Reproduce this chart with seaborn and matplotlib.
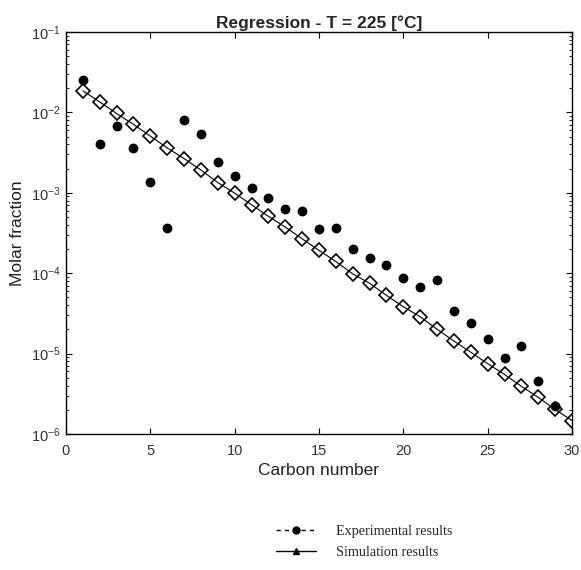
import numpy as np
import pandas as pd
import matplotlib
matplotlib.use("Agg")
import matplotlib.pyplot as plt
from matplotlib.lines import Line2D
from matplotlib.ticker import LogLocator, FixedLocator
import seaborn as sns

# ---- data ----
carbon_exp = list(range(1, 30))
exp_values = [0.0252, 0.00406, 0.00678, 0.00362, 0.00135, 0.00037, 0.00805, 0.00545,
              0.00242, 0.00162, 0.00115, 0.00085, 0.00062, 0.00060, 0.00035, 0.000365,
              0.000202, 0.000155, 0.000127, 8.75e-5, 6.7e-5, 8.3e-5, 3.4e-5, 2.37e-5,
              1.54e-5, 8.9e-6, 1.24e-5, 4.5e-6, 2.2e-6]
carbon_sim = list(range(1, 31))
sim_values = [0.0186, 0.0135, 0.0097, 0.0071, 0.00507, 0.00362, 0.00266, 0.00192,
              0.00134, 0.00099, 0.00071, 0.00051, 0.000375, 0.000268, 0.000192,
              0.00014, 9.8e-5, 7.5e-5, 5.3e-5, 3.83e-5, 2.87e-5, 2.01e-5, 1.43e-5,
              1.04e-5, 7.5e-6, 5.5e-6, 3.92e-6, 2.85e-6, 2.02e-6, 1.47e-6]
x_ticks = [0, 5, 10, 15, 20, 25, 30]
title = "Regression - T = 225 [°C]"
xlabel = "Carbon number"
ylabel = "Molar fraction"
legend_labels = ["Experimental results", "Simulation results"]

df_exp = pd.DataFrame({"carbon": carbon_exp, "value": exp_values})
df_sim = pd.DataFrame({"carbon": carbon_sim, "value": sim_values})

sns.set_style("ticks")
plt.rcParams["font.family"] = ["Liberation Sans", "DejaVu Sans"]

fig = plt.figure(figsize=(5.81, 5.70), dpi=100)
ax = fig.add_axes([66 / 581, 136 / 570, (572 - 66) / 581, (436 - 34) / 570])

sns.lineplot(data=df_sim, x="carbon", y="value", ax=ax, color="black",
             linewidth=0.8, marker="D", markersize=6.8, markerfacecolor="none",
             markeredgecolor="black", markeredgewidth=1.2, zorder=3)
sns.scatterplot(data=df_exp, x="carbon", y="value", ax=ax, color="black",
                s=50, edgecolor="black", linewidth=0, zorder=4)

ax.set_yscale("log")
ax.set_ylim(1e-6, 1e-1)
ax.set_xlim(0, 30)
ax.xaxis.set_major_locator(FixedLocator(x_ticks))
ax.yaxis.set_major_locator(LogLocator(base=10, numticks=10))
ax.yaxis.set_minor_locator(LogLocator(base=10, subs=np.arange(2, 10), numticks=10))

for s in ax.spines.values():
    s.set_visible(True)
    s.set_linewidth(1.0)
    s.set_color("black")

ax.tick_params(axis="both", which="both", direction="in", top=True, right=True,
               colors="black", labelcolor="#333333")
ax.tick_params(axis="both", which="major", length=4, width=0.8, labelsize=10.5)
ax.tick_params(axis="y", which="minor", length=2.5, width=0.6)
ax.tick_params(axis="x", which="major", pad=7)
ax.tick_params(axis="y", which="major", pad=4)

ax.set_title(title, fontsize=12.5, fontweight="bold", pad=3)
ax.set_xlabel(xlabel, fontsize=12.5, color="#222222", labelpad=4)
ax.set_ylabel(ylabel, fontsize=12.5, color="#222222", labelpad=4)

handles = [
    Line2D([0], [0], color="black", linestyle=(0, (3, 3)), linewidth=1.0,
           marker="o", markersize=5, markerfacecolor="black"),
    Line2D([0], [0], color="black", linestyle="-", linewidth=1.0,
           marker="^", markersize=5, markerfacecolor="black"),
]
fig.legend(handles, legend_labels, loc="upper left",
           bbox_to_anchor=(276 / 581, 1 - 525 / 570), frameon=False,
           borderpad=0, borderaxespad=0, handlelength=2.8, handletextpad=1.45,
           labelspacing=0.55,
           prop={"family": ["Liberation Serif", "DejaVu Serif"], "size": 10.2})

fig.savefig("out.png", dpi=100)
